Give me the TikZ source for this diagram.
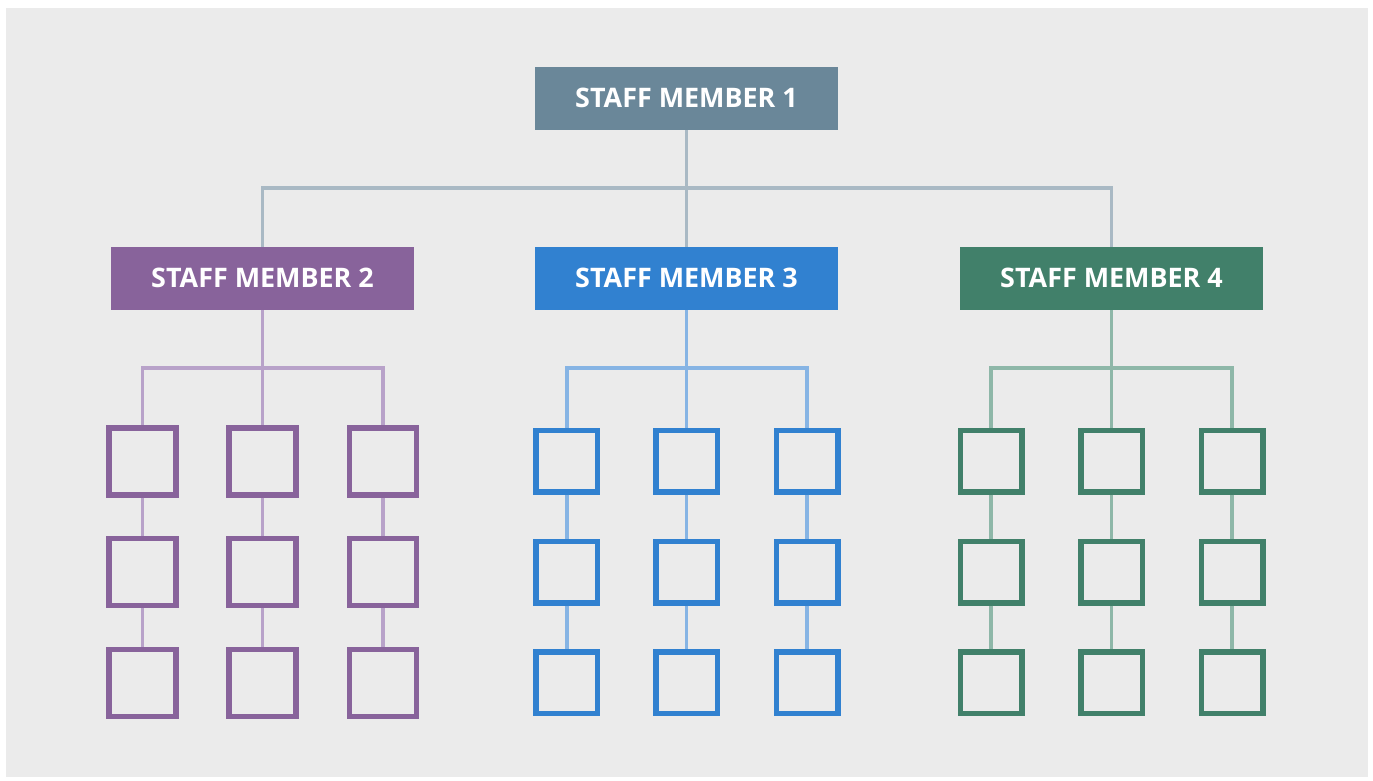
\documentclass[tikz,border=0pt]{standalone}
\usepackage{fontspec}
\setmainfont{Open Sans}
\definecolor{bg}{HTML}{EBEBEB}
\definecolor{topc}{HTML}{6A8799}
\definecolor{topl}{HTML}{A9B9C4}
\definecolor{purc}{HTML}{88639B}
\definecolor{purl}{HTML}{B8A2C9}
\definecolor{bluc}{HTML}{3181D0}
\definecolor{blul}{HTML}{86B4E4}
\definecolor{grnc}{HTML}{41806A}
\definecolor{grnl}{HTML}{8EB7A8}
\tikzset{
  staff/.style={rectangle, minimum width=303pt, minimum height=63pt, inner sep=0pt,
    text=white, font=\fontsize{26.9}{30}\selectfont\bfseries, text depth=2pt},
  sub/.style={rectangle, draw=#1, line width=5.5pt, minimum size=61.5pt, inner sep=0pt},
  subp/.style={rectangle, draw=purc, line width=5.4pt, minimum size=67pt, inner sep=0pt},
  conn/.style={draw=#1, line width=3.6pt},
}
\begin{document}
\begin{tikzpicture}[x=1pt,y=-1pt]
\useasboundingbox (0,0) rectangle (1373,780);
\fill[white] (0,0) rectangle (1373,780);
\fill[bg] (6,8) rectangle (1368,777);

\node[staff, fill=topc] (s1) at (686.5,98.5) {STAFF MEMBER 1};
\node[staff, fill=purc] (s2) at (262.5,278.5) {STAFF MEMBER 2};
\node[staff, fill=bluc] (s3) at (686.5,278.5) {STAFF MEMBER 3};
\node[staff, fill=grnc] (s4) at (1111.5,278.5) {STAFF MEMBER 4};

\coordinate (t) at (686.5,188);
\draw[conn=topl] (s1.south) -- (s3.north);
\draw[conn=topl] (s2.north) |- (t) -| (s4.north);

% purple group
\foreach \c/\x in {1/142.3,2/262.5,3/382.7}{
  \foreach \r/\y in {1/461.5,2/572,3/683}{
    \node[subp] (p\c\r) at (\x,\y) {};
  }
}
% blue group
\foreach \c/\x in {1/566.7,2/686.5,3/807}{
  \foreach \r/\y in {1/461,2/572,3/682.7}{
    \node[sub=bluc] (b\c\r) at (\x,\y) {};
  }
}
% green group
\foreach \c/\x in {1/991,2/1111.5,3/1232}{
  \foreach \r/\y in {1/461,2/572,3/682.7}{
    \node[sub=grnc] (g\c\r) at (\x,\y) {};
  }
}

\coordinate (tp) at (262.5,368);
\coordinate (tb) at (686.5,368);
\coordinate (tg) at (1111.5,368);

\draw[conn=purl] (s2.south) -- (p21.north);
\draw[conn=purl] (p11.north) |- (tp) -| (p31.north);
\draw[conn=blul] (s3.south) -- (b21.north);
\draw[conn=blul] (b11.north) |- (tb) -| (b31.north);
\draw[conn=grnl] (s4.south) -- (g21.north);
\draw[conn=grnl] (g11.north) |- (tg) -| (g31.north);

\foreach \c in {1,2,3}{
  \draw[conn=purl] (p\c1.south) -- (p\c2.north);
  \draw[conn=purl] (p\c2.south) -- (p\c3.north);
  \draw[conn=blul] (b\c1.south) -- (b\c2.north);
  \draw[conn=blul] (b\c2.south) -- (b\c3.north);
  \draw[conn=grnl] (g\c1.south) -- (g\c2.north);
  \draw[conn=grnl] (g\c2.south) -- (g\c3.north);
}
\end{tikzpicture}
\end{document}
